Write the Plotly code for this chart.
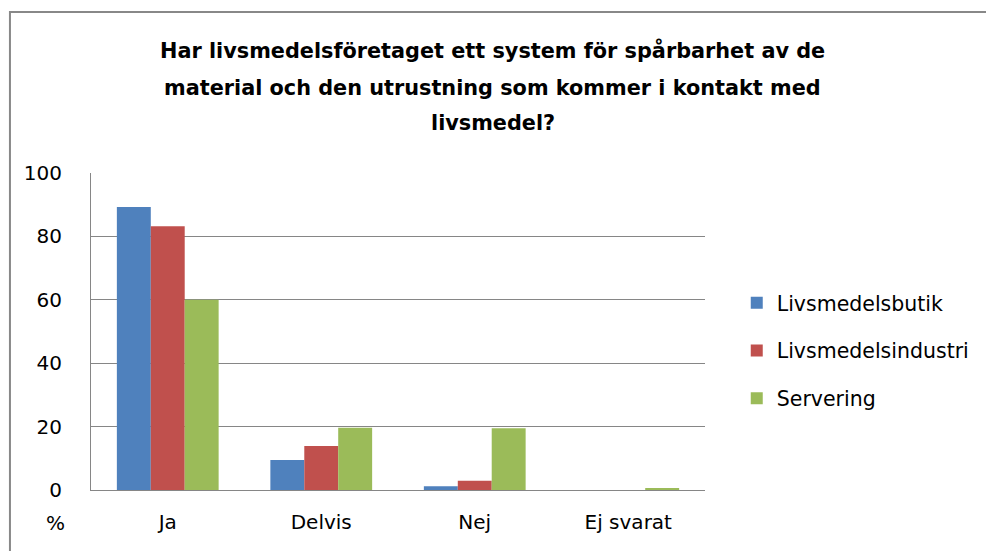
import plotly.graph_objects as go

categories = ["Ja", "Delvis", "Nej", "Ej svarat"]
livsmedelsbutik = [89.3, 9.5, 1.2, 0]
livsmedelsindustri = [83.2, 13.9, 2.9, 0]
servering = [60.0, 19.6, 19.5, 0.5]
y_ticks = [0, 20, 40, 60, 80, 100]
title_lines = [
    "Har livsmedelsföretaget ett system för spårbarhet av de",
    "material och den utrustning som kommer i kontakt med",
    "livsmedel?",
]

series = [
    ("Livsmedelsbutik", livsmedelsbutik, "#4F81BD"),
    ("Livsmedelsindustri", livsmedelsindustri, "#C0504D"),
    ("Servering", servering, "#9BBB59"),
]

FONT = "DejaVu Sans"
fig = go.Figure()
for name, vals, col in series:
    fig.add_trace(go.Bar(x=categories, y=vals, name=name, legendgroup=name,
                         marker=dict(color=col, line=dict(width=0))))

annotations = []
for line, yp in zip(title_lines, [1.388, 1.268, 1.158]):
    annotations.append(dict(text="<b>" + line + "</b>", xref="paper", yref="paper",
                            x=0.6545, y=yp, xanchor="center", yanchor="middle", showarrow=False,
                            font=dict(family=FONT, size=20.8, color="#000000")))
annotations.append(dict(text="%", xref="paper", yref="paper", x=-0.0585, y=-0.104,
                        xanchor="center", yanchor="middle", showarrow=False,
                        font=dict(family=FONT, size=20, color="#000000")))

fig.update_layout(
    width=986, height=551,
    paper_bgcolor="white", plot_bgcolor="white",
    margin=dict(l=91, r=280, t=173, b=61),
    barmode="group", bargap=0.337, bargroupgap=0,
    font=dict(family=FONT, size=20, color="#000000"),
    showlegend=True,
    legend=dict(x=1.05, y=0.44, xanchor="left", yanchor="middle",
                font=dict(family=FONT, size=20.5, color="#000000"),
                tracegroupgap=18, itemwidth=30, bgcolor="rgba(0,0,0,0)"),
    xaxis=dict(showline=True, linecolor="#868686", linewidth=1, ticks="",
               tickfont=dict(size=20), showgrid=False, ticklabelstandoff=14),
    yaxis=dict(range=[0, 100], tickvals=y_ticks, showgrid=True, gridcolor="#868686",
               gridwidth=1, showline=True, linecolor="#868686", linewidth=1,
               ticks="", zeroline=False, ticklabelstandoff=24,
               tickfont=dict(size=20)),
    shapes=[dict(type="rect", xref="paper", yref="paper", x0=-0.132, x1=1.6, y0=-0.5, y1=1.508,
                 line=dict(color="#888888", width=2), fillcolor="rgba(0,0,0,0)")],
    annotations=annotations,
)

fig.write_html("out.html", config={"displayModeBar": False},
               post_script="document.body.style.margin='0';document.body.style.padding='0';")
